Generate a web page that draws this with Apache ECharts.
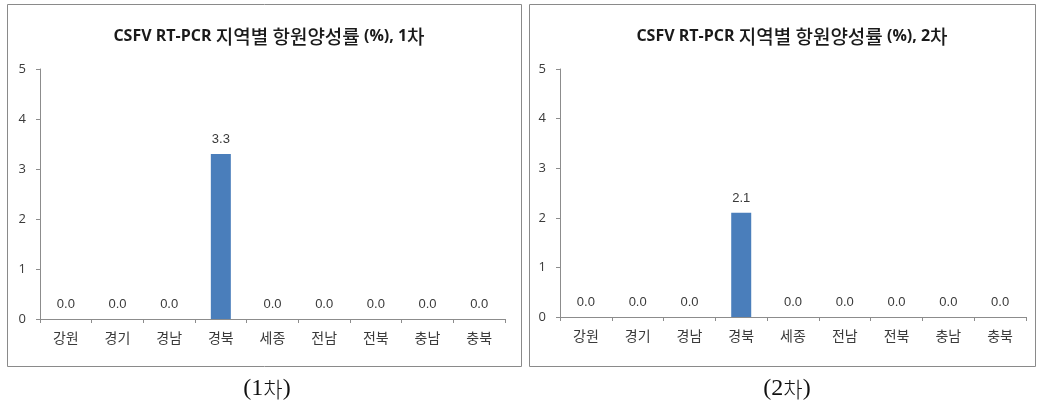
<!DOCTYPE html>
<html>
<head>
<meta charset="utf-8">
<script src="https://cdn.jsdelivr.net/npm/echarts@6/dist/echarts.min.js"></script>
<style>
  html, body { margin: 0; padding: 0; background: #ffffff; }
  #chart { width: 1037px; height: 403px; }
</style>
</head>
<body>
<div id="chart"></div>
<script>
// Regions (x-axis categories)
const regions = ['강원', '경기', '경남', '경북', '세종', '전남', '전북', '충남', '충북'];
// Antigen positive rate (%) per region, round 1 and round 2
const round1 = [0.0, 0.0, 0.0, 3.3, 0.0, 0.0, 0.0, 0.0, 0.0];
const round2 = [0.0, 0.0, 0.0, 2.1, 0.0, 0.0, 0.0, 0.0, 0.0];
// Y-axis tick range
const yMin = 0, yMax = 5, yStep = 1;
// Panel titles and captions
const titlesLatin = ['CSFV RT-PCR ', 'CSFV RT-PCR '];
const titlesKor = '지역별 항원양성률';
const titlesTail = [' (%), 1', ' (%), 2'];
const captionsNum = ['1', '2'];

const axisGray = '#8c8c8c';
const textGray = '#3a3a3a';
const barBlue = '#4a7ebb';

const panels = [
  { box: [7, 4, 514, 362], grid: { left: 40, top: 69, width: 465, height: 250 }, cx: 264, capx: 262 },
  { box: [529, 4, 506, 362], grid: { left: 560, top: 69, width: 466, height: 248 }, cx: 787, capx: 782 }
];

function makeTitle(i) {
  return {
    text: '{b|' + titlesLatin[i] + '}{k|' + titlesKor + '}{b|' + titlesTail[i] + '}{k|차}',
    left: panels[i].cx, top: 22, textAlign: 'center',
    textStyle: {
      rich: {
        b: { fontFamily: 'Open Sans', fontWeight: 'bold', fontSize: 16, color: '#1a1a1a' },
        k: { fontFamily: 'Noto Sans CJK KR', fontWeight: 500, fontSize: 19, color: '#1a1a1a' }
      }
    }
  };
}

function makeCaption(i) {
  return {
    text: '{s|(' + captionsNum[i] + '}{k|차}{s|)}',
    left: panels[i].capx, top: 372, textAlign: 'center',
    textStyle: {
      fontWeight: 'normal',
      rich: {
        s: { fontFamily: 'Liberation Serif', fontWeight: 'normal', fontSize: 24, color: '#111' },
        k: { fontFamily: 'Noto Sans CJK KR', fontWeight: 300, fontSize: 21, color: '#111' }
      }
    }
  };
}

const chart = echarts.init(document.getElementById('chart'), null, { renderer: 'canvas' });

const xAxes = panels.map((p, i) => ({
  type: 'category', gridIndex: i, data: regions,
  axisLine: { lineStyle: { color: axisGray, width: 1 } },
  axisTick: { show: true, length: 4, lineStyle: { color: axisGray } },
  axisLabel: { color: textGray, fontSize: 14, margin: 12, fontFamily: 'Noto Sans CJK KR' }
}));

const yAxes = panels.map((p, i) => ({
  type: 'value', gridIndex: i, min: yMin, max: yMax, interval: yStep,
  axisLine: { show: true, lineStyle: { color: axisGray, width: 1 } },
  axisTick: { show: true, length: 4, lineStyle: { color: axisGray } },
  splitLine: { show: false },
  axisLabel: { color: textGray, fontSize: 13, margin: 14, fontFamily: 'Open Sans' }
}));

const seriesData = [round1, round2];
const series = seriesData.map((d, i) => ({
  type: 'bar', xAxisIndex: i, yAxisIndex: i, data: d,
  barWidth: 20,
  itemStyle: { color: barBlue },
  label: {
    show: true, position: 'top', distance: 8,
    color: textGray, fontSize: 13, fontFamily: 'Liberation Sans',
    formatter: p => p.value.toFixed(1)
  },
  silent: true
}));

chart.setOption({
  backgroundColor: '#ffffff',
  animation: false,
  title: [makeTitle(0), makeTitle(1), makeCaption(0), makeCaption(1)],
  grid: panels.map(p => Object.assign({ containLabel: false }, p.grid)),
  xAxis: xAxes,
  yAxis: yAxes,
  series: series,
  graphic: panels.map(p => ({
    type: 'rect', silent: true, z: -1,
    shape: { x: p.box[0] + 0.5, y: p.box[1] + 0.5, width: p.box[2], height: p.box[3] },
    style: { fill: 'none', stroke: '#8a8a8a', lineWidth: 1 }
  }))
});
</script>
</body>
</html>
